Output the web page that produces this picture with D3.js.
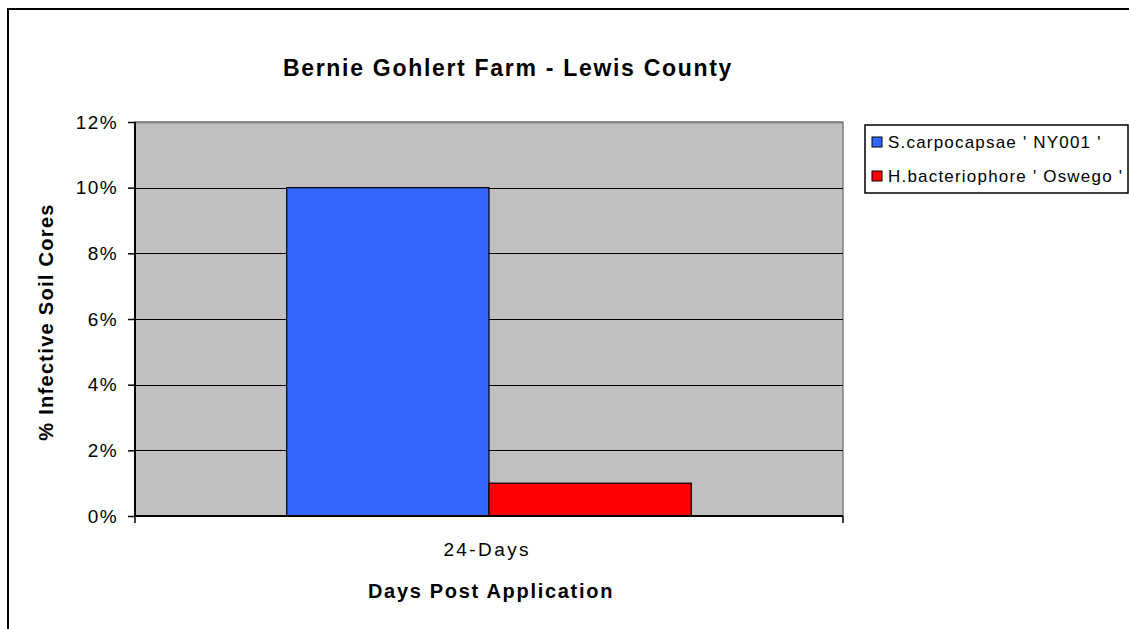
<!DOCTYPE html>
<html>
<head>
<meta charset="utf-8">
<script src="https://cdn.jsdelivr.net/npm/d3@7"></script>
<style>
  body { margin: 0; background: #fff; }
  svg { display: block; font-family: "Liberation Sans", Arial, sans-serif; }
</style>
</head>
<body>
<svg id="chart" width="1129" height="629"></svg>
<script>
const categories = ["24-Days"];
const seriesNames = ["S.carpocapsae ' NY001 '", "H.bacteriophore ' Oswego '"];
const seriesValues = [[0.10], [0.01]];
const seriesColors = ["#3366FF", "#FF0000"];
const yTicks = [0, 0.02, 0.04, 0.06, 0.08, 0.10, 0.12];
const title = "Bernie Gohlert Farm - Lewis County";
const xTitle = "Days Post Application";
const yTitle = "% Infective Soil Cores";

const svg = d3.select("#chart");
const plot = {left: 135, top: 122, right: 843, bottom: 516};

// outer chart border
svg.append("rect").attr("x", 8).attr("y", 9).attr("width", 1140).attr("height", 640)
  .attr("fill", "none").attr("stroke", "#000").attr("stroke-width", 2);

const x0 = d3.scaleBand().domain(categories).range([plot.left, plot.right]).paddingInner(0).paddingOuter(0);
const x1 = d3.scaleBand().domain(seriesNames).range([0, x0.bandwidth()]).paddingInner(0).paddingOuter(0.75);
const y = d3.scaleLinear().domain([0, 0.12]).range([plot.bottom, plot.top]);

// plot background
svg.append("rect").attr("x", plot.left).attr("y", plot.top)
  .attr("width", plot.right - plot.left).attr("height", plot.bottom - plot.top)
  .attr("fill", "#C0C0C0").attr("stroke", "#808080").attr("stroke-width", 1.5);

// gridlines
svg.append("g").selectAll("line").data(yTicks.filter(d => d > 0)).join("line")
  .attr("x1", plot.left).attr("x2", plot.right)
  .attr("y1", d => Math.round(y(d)) + 0.5).attr("y2", d => Math.round(y(d)) + 0.5)
  .attr("stroke", d => d === 0.12 ? "#808080" : "#000").attr("stroke-width", d => d === 0.12 ? 2 : 1.2);

// bars
const bars = svg.append("g");
categories.forEach((c, ci) => {
  seriesNames.forEach((s, si) => {
    const v = seriesValues[si][ci];
    bars.append("rect")
      .attr("x", x0(c) + x1(s)).attr("y", y(v))
      .attr("width", x1.bandwidth()).attr("height", y(0) - y(v))
      .attr("fill", seriesColors[si]).attr("stroke", "#000").attr("stroke-width", 1.2);
  });
});

// y axis
const yAxis = d3.axisLeft(y).tickValues(yTicks).tickFormat(d3.format(".0%")).tickSize(7).tickPadding(10);
const gy = svg.append("g").attr("transform", `translate(${plot.left},0)`).call(yAxis);
gy.select(".domain").attr("stroke", "#000").attr("stroke-width", 2).attr("d", `M0,${plot.top}V${plot.bottom}`);
gy.selectAll(".tick line").attr("stroke", "#000").attr("stroke-width", 1.5);
gy.selectAll(".tick text").attr("font-size", 19).attr("fill", "#000").attr("letter-spacing", 1.4)
  .attr("font-family", "'Liberation Sans', Arial, sans-serif");

// x axis
const gx = svg.append("g").attr("transform", `translate(0,${plot.bottom})`);
gx.append("line").attr("x1", plot.left).attr("x2", plot.right).attr("y1", 0).attr("y2", 0)
  .attr("stroke", "#000").attr("stroke-width", 2);
gx.selectAll("line.tk").data([plot.left, plot.right]).join("line").attr("class", "tk")
  .attr("x1", d => d).attr("x2", d => d).attr("y1", 0).attr("y2", 7)
  .attr("stroke", "#000").attr("stroke-width", 1.5);
gx.selectAll("text").data(categories).join("text")
  .attr("x", d => x0(d) + x0.bandwidth() / 2 - 3 + 1.2).attr("y", 40)
  .attr("text-anchor", "middle").attr("font-size", 19).attr("letter-spacing", 2.4).text(d => d);

// titles
svg.append("text").attr("x", 508).attr("y", 76).attr("text-anchor", "middle")
  .attr("font-size", 23).attr("letter-spacing", 1.7).attr("font-weight", "bold").text(title);
svg.append("text").attr("x", 491).attr("y", 598).attr("text-anchor", "middle")
  .attr("font-size", 20).attr("letter-spacing", 1.7).attr("font-weight", "bold").text(xTitle);
svg.append("text").attr("transform", "translate(53,322) rotate(-90)").attr("text-anchor", "middle")
  .attr("font-size", 20).attr("letter-spacing", 1.3).attr("font-weight", "bold").text(yTitle);

// legend
const lg = svg.append("g");
lg.append("rect").attr("x", 865).attr("y", 125).attr("width", 263).attr("height", 68)
  .attr("fill", "#fff").attr("stroke", "#000").attr("stroke-width", 1.5);
seriesNames.forEach((s, i) => {
  const cy = 142 + i * 34;
  lg.append("rect").attr("x", 872).attr("y", cy - 5).attr("width", 10).attr("height", 10)
    .attr("fill", seriesColors[i]).attr("stroke", "#000").attr("stroke-width", 1);
  lg.append("text").attr("x", 888).attr("y", cy + 6).attr("font-size", 17).attr("letter-spacing", 1.2).text(s);
});
</script>
</body>
</html>
